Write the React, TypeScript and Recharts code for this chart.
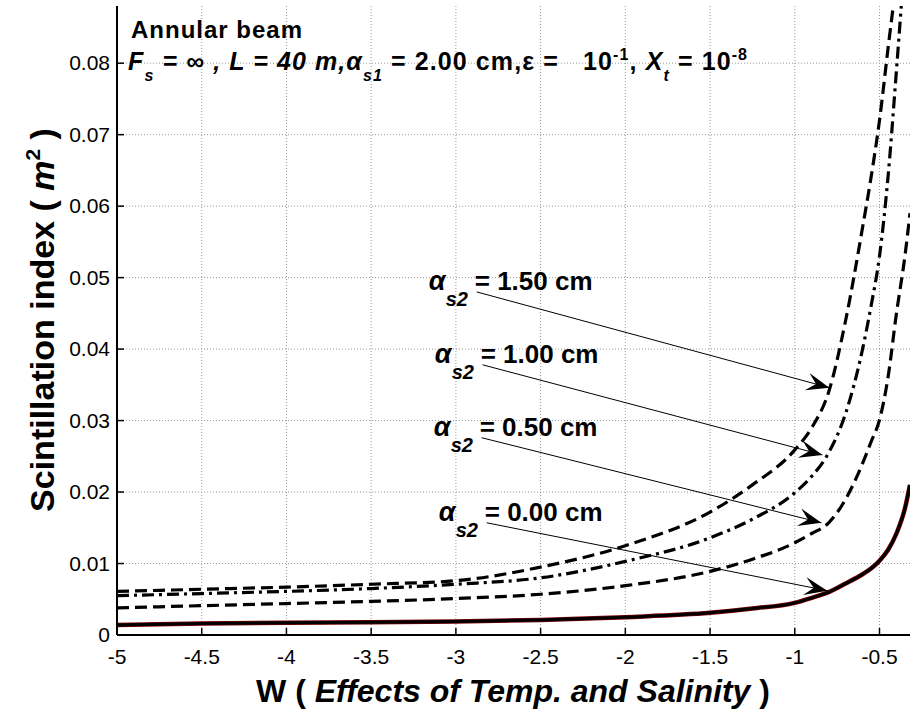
import React from "react";
import { LineChart, Line, XAxis, YAxis, CartesianGrid, ReferenceLine } from "recharts";

// W (effects of temperature and salinity) sample points
const wValues = [-5, -4.5, -4, -3.5, -3, -2.5, -2, -1.5, -1.25, -1, -0.9, -0.8, -0.7, -0.6, -0.55, -0.5, -0.45, -0.4, -0.35, -0.32];

// scintillation index for each alpha_s2
const as2_150 = [0.0061, 0.0064, 0.0067, 0.0071, 0.0076, 0.0095, 0.0125, 0.0172, 0.021, 0.0259, 0.029, 0.034, 0.044, 0.057, 0.064, 0.072, 0.082, 0.092, 0.105, 0.115];
const as2_100 = [0.0055, 0.0058, 0.0061, 0.0065, 0.0071, 0.008, 0.0103, 0.0136, 0.0162, 0.0199, 0.0222, 0.0255, 0.031, 0.04, 0.046, 0.053, 0.064, 0.079, 0.095, 0.105];
const as2_050 = [0.0038, 0.0041, 0.0044, 0.0047, 0.0051, 0.0057, 0.0069, 0.0089, 0.0106, 0.0129, 0.0142, 0.0157, 0.019, 0.024, 0.027, 0.0301, 0.036, 0.045, 0.053, 0.059];
const as2_000 = [0.0014, 0.0016, 0.0017, 0.0018, 0.0019, 0.0021, 0.0025, 0.0031, 0.0037, 0.0045, 0.0052, 0.006, 0.0072, 0.0085, 0.0093, 0.0104, 0.0119, 0.0142, 0.0177, 0.021];

const xTicks = [-5, -4.5, -4, -3.5, -3, -2.5, -2, -1.5, -1, -0.5];
const yTicks = [0, 0.01, 0.02, 0.03, 0.04, 0.05, 0.06, 0.07, 0.08];

// arrow annotations (label, start, end in data units)
const annotLabels = ["1.50", "1.00", "0.50", "0.00"];
const annotFrom = [[-2.877, 0.048], [-2.842, 0.0378], [-2.848, 0.0276], [-2.818, 0.0157]];
const annotTo = [[-0.796, 0.0346], [-0.837, 0.0252], [-0.843, 0.0157], [-0.808, 0.0062]];

const data = wValues.map((w, i) => ({
  w,
  a150: as2_150[i],
  a100: as2_100[i],
  a050: as2_050[i],
  a000: as2_000[i],
}));

const FONT = "'Liberation Sans', Arial, Helvetica, sans-serif";

const XTick = (props: any) => {
  const { x, y, payload } = props;
  return (
    <g>
      <line x1={x} x2={x} y1={y} y2={y - 7} stroke="#000" strokeWidth={1.5} />
      <text x={x} y={y + 29} textAnchor="middle" fontSize={21} fontFamily={FONT} fill="#000">
        {String(payload.value)}
      </text>
    </g>
  );
};

const TopTick = (props: any) => {
  const { x, y } = props;
  return <line x1={x} x2={x} y1={y} y2={y + 7} stroke="#000" strokeWidth={1.5} />;
};

const YTick = (props: any) => {
  const { x, y, payload } = props;
  return (
    <g>
      <line x1={x} x2={x + 7} y1={y} y2={y} stroke="#000" strokeWidth={1.5} />
      <text x={x - 7} y={y + 7} textAnchor="end" fontSize={21} fontFamily={FONT} fill="#000">
        {String(payload.value)}
      </text>
    </g>
  );
};

const RightTick = (props: any) => {
  const { x, y } = props;
  return <line x1={x} x2={x - 7} y1={y} y2={y} stroke="#000" strokeWidth={1.5} />;
};

const Arrow = (props: any) => {
  const { x1, y1, x2, y2, text } = props;
  const ang = Math.atan2(y2 - y1, x2 - x1);
  const L = 23;
  const H = 9;
  const rot = (dx: number, dy: number) =>
    `${x2 + dx * Math.cos(ang) - dy * Math.sin(ang)},${y2 + dx * Math.sin(ang) + dy * Math.cos(ang)}`;
  const head = [rot(0, 0), rot(-L, -H), rot(-L * 0.6, 0), rot(-L, H)].join(" ");
  return (
    <g>
      <line x1={x1} y1={y1} x2={x2} y2={y2} stroke="#000" strokeWidth={1} />
      <polygon points={head} fill="#000" />
      <g fontFamily={FONT} fontWeight="bold" fill="#000">
        <text x={x1 - 48} y={y1 - 2} fontSize={27} fontStyle="italic">α</text>
        <text x={x1 - 31} y={y1 + 14} fontSize={20} fontStyle="italic">s2</text>
        <text x={x1 - 2} y={y1 - 2} fontSize={26}>{`= ${text} cm`}</text>
      </g>
    </g>
  );
};

export default function App() {
  const t = { fontFamily: FONT, fontWeight: "bold" as const, fill: "#000" };
  return (
    <div style={{ position: "absolute", left: 0, top: 0, width: 910, height: 715, background: "#fff" }}>
      <LineChart width={910} height={715} data={data} margin={{ top: 6, right: 0, bottom: 0, left: 0 }}>
        <CartesianGrid stroke="#9a9a9a" strokeDasharray="1 2" horizontalValues={yTicks} verticalValues={xTicks} />
        <XAxis
          dataKey="w"
          type="number"
          domain={[-5, -0.32]}
          allowDataOverflow
          ticks={xTicks}
          height={80}
          tickSize={0}
          tickMargin={0}
          tickLine={false}
          axisLine={{ stroke: "#000", strokeWidth: 2 }}
          tick={<XTick />}
          interval={0}
        />
        <XAxis
          xAxisId="top"
          orientation="top"
          dataKey="w"
          type="number"
          domain={[-5, -0.32]}
          allowDataOverflow
          ticks={xTicks}
          height={0}
          tickSize={0}
          tickMargin={0}
          tickLine={false}
          axisLine={{ stroke: "#000", strokeWidth: 2 }}
          tick={<TopTick />}
          interval={0}
        />
        <YAxis
          type="number"
          domain={[0, 0.088]}
          allowDataOverflow
          ticks={yTicks}
          width={117}
          tickSize={0}
          tickMargin={0}
          tickLine={false}
          axisLine={{ stroke: "#000", strokeWidth: 2 }}
          tick={<YTick />}
          interval={0}
        />
        <YAxis
          yAxisId="right"
          orientation="right"
          type="number"
          domain={[0, 0.088]}
          allowDataOverflow
          ticks={yTicks}
          width={0}
          tickSize={0}
          tickMargin={0}
          tickLine={false}
          axisLine={{ stroke: "#000", strokeWidth: 2 }}
          tick={<RightTick />}
          interval={0}
        />
        <Line dataKey="a150" type="monotone" stroke="#000" strokeWidth={3.2} strokeDasharray="12 6" dot={false} isAnimationActive={false} />
        <Line dataKey="a100" type="monotone" stroke="#000" strokeWidth={3.2} strokeDasharray="12 5 3 5" dot={false} isAnimationActive={false} />
        <Line dataKey="a050" type="monotone" stroke="#000" strokeWidth={3.2} strokeDasharray="12 6" dot={false} isAnimationActive={false} />
        <Line dataKey="a000" type="monotone" stroke="#7a0000" strokeWidth={4.5} dot={false} isAnimationActive={false} />
        <Line dataKey="a000" type="monotone" stroke="#000" strokeWidth={3} dot={false} isAnimationActive={false} />
        {annotLabels.map((lab, i) => (
          <ReferenceLine
            key={lab}
            segment={[
              { x: annotFrom[i][0], y: annotFrom[i][1] },
              { x: annotTo[i][0], y: annotTo[i][1] },
            ]}
            ifOverflow="visible"
            shape={(p: any) => <Arrow {...p} text={lab} />}
          />
        ))}
      </LineChart>
      <svg width={910} height={715} style={{ position: "absolute", left: 0, top: 0, pointerEvents: "none" }}>
        <g {...t}>
          <text x={131} y={38} fontSize={24} letterSpacing={1}>Annular beam</text>
          <text x={128} y={70} fontSize={25} letterSpacing={1.1} xmlSpace="preserve">
            <tspan fontStyle="italic">F</tspan>
            <tspan fontStyle="italic" fontSize={16} dy={11}>s</tspan>
            <tspan fontStyle="italic" dy={-11}> = ∞ , L = 40 m,α</tspan>
            <tspan fontStyle="italic" fontSize={16} dy={11}>s1</tspan>
            <tspan dy={-11}> = 2.00 cm,ε =   10</tspan>
            <tspan fontSize={16} dy={-10}>-1</tspan>
            <tspan dy={10}>, </tspan>
            <tspan fontStyle="italic">X</tspan>
            <tspan fontStyle="italic" fontSize={16} dy={11}>t</tspan>
            <tspan dy={-11}> = 10</tspan>
            <tspan fontSize={16} dy={-10}>-8</tspan>
          </text>

          <text x={513} y={702} fontSize={32} textAnchor="middle">
            <tspan>W ( </tspan>
            <tspan fontStyle="italic">Effects of Temp. and Salinity</tspan>
            <tspan> )</tspan>
          </text>
          <text transform="translate(54,320) rotate(-90)" fontSize={34} textAnchor="middle">
            <tspan>Scintillation index ( </tspan>
            <tspan fontStyle="italic">m</tspan>
            <tspan dy={-14} fontSize={21}>2</tspan>
            <tspan dy={14}> )</tspan>
          </text>
        </g>
      </svg>
    </div>
  );
}
